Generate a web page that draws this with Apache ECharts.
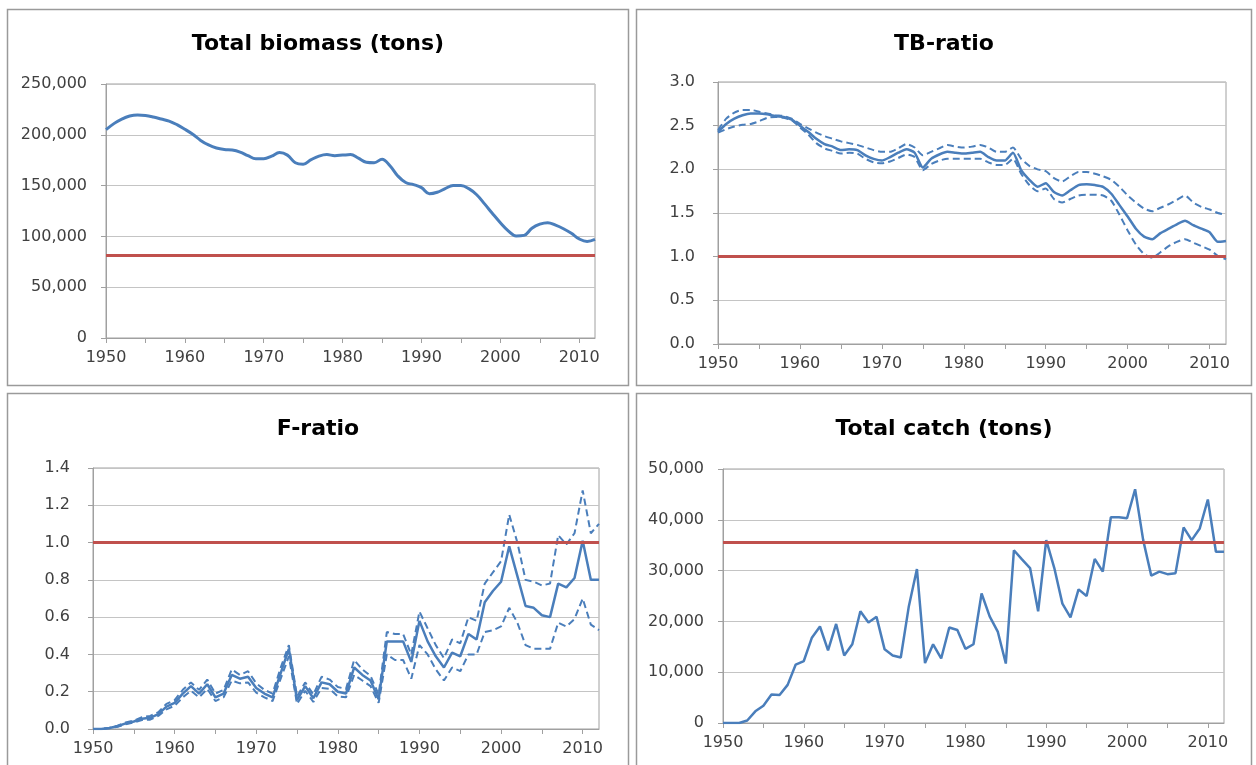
<!DOCTYPE html>
<html><head><meta charset="utf-8">
<script src="https://cdn.jsdelivr.net/npm/echarts@6/dist/echarts.min.js"></script>
<style>html,body{margin:0;padding:0;background:#fff}#c{width:1256px;height:765px}</style>
</head><body><div id="c"></div>
<script>
const years = ['1950','1951','1952','1953','1954','1955','1956','1957','1958','1959',
 '1960','1961','1962','1963','1964','1965','1966','1967','1968','1969',
 '1970','1971','1972','1973','1974','1975','1976','1977','1978','1979',
 '1980','1981','1982','1983','1984','1985','1986','1987','1988','1989',
 '1990','1991','1992','1993','1994','1995','1996','1997','1998','1999',
 '2000','2001','2002','2003','2004','2005','2006','2007','2008','2009',
 '2010','2011','2012'];

const titles = ['Total biomass (tons)', 'TB-ratio', 'F-ratio', 'Total catch (tons)'];

const biomass = [205000,211000,215500,218500,219500,219000,217500,215500,213500,210000,
 205500,200500,194500,190000,187000,185500,185000,183000,179500,176500,
 176500,179000,182500,180000,172500,171000,175500,179000,180500,179500,
 180000,180500,177000,173000,172500,176000,169500,159500,153000,151000,
 148000,142000,143500,147000,150000,150000,147000,141000,132000,122500,
 113500,105500,100500,101000,108000,112000,113500,111000,107500,103000,
 97500,95000,97000];
const biomassRef = 81500;

const tbMid = [2.43,2.52,2.58,2.62,2.64,2.64,2.63,2.61,2.60,2.57,
 2.50,2.43,2.35,2.29,2.26,2.22,2.23,2.22,2.16,2.12,
 2.10,2.14,2.19,2.23,2.19,2.02,2.12,2.17,2.20,2.19,
 2.18,2.19,2.20,2.14,2.10,2.10,2.19,1.99,1.88,1.80,
 1.84,1.74,1.70,1.76,1.82,1.83,1.82,1.80,1.72,1.59,
 1.46,1.32,1.23,1.20,1.27,1.32,1.37,1.41,1.36,1.32,
 1.28,1.17,1.18];
const tbUpper = [2.45,2.58,2.65,2.68,2.68,2.66,2.64,2.62,2.61,2.58,
 2.52,2.47,2.42,2.38,2.35,2.32,2.30,2.28,2.25,2.22,
 2.20,2.20,2.24,2.29,2.25,2.16,2.20,2.24,2.28,2.26,
 2.25,2.26,2.28,2.25,2.20,2.20,2.25,2.12,2.04,2.00,
 1.98,1.90,1.86,1.92,1.97,1.97,1.95,1.92,1.88,1.80,
 1.70,1.62,1.55,1.52,1.56,1.60,1.65,1.70,1.62,1.57,
 1.54,1.50,1.48];
const tbLower = [2.42,2.46,2.49,2.51,2.52,2.55,2.59,2.60,2.59,2.56,
 2.48,2.40,2.30,2.24,2.21,2.18,2.19,2.18,2.12,2.08,
 2.07,2.09,2.13,2.17,2.14,1.99,2.06,2.10,2.12,2.12,
 2.12,2.12,2.12,2.08,2.05,2.05,2.12,1.95,1.82,1.75,
 1.78,1.66,1.62,1.66,1.70,1.71,1.71,1.70,1.64,1.48,
 1.30,1.14,1.03,0.99,1.05,1.12,1.17,1.20,1.16,1.12,
 1.08,1.01,0.97];
const tbRef = 1.0;

const fMid = [0.00,0.00,0.005,0.015,0.03,0.04,0.055,0.06,0.08,0.12,
 0.14,0.19,0.23,0.19,0.24,0.17,0.19,0.29,0.27,0.28,
 0.22,0.19,0.17,0.30,0.43,0.155,0.23,0.165,0.25,0.24,
 0.20,0.19,0.33,0.29,0.26,0.16,0.47,0.47,0.47,0.36,
 0.58,0.47,0.39,0.33,0.41,0.39,0.51,0.48,0.68,0.74,
 0.79,0.98,0.82,0.66,0.65,0.61,0.60,0.78,0.76,0.81,
 1.01,0.80,0.80];
const fUpper = [0.00,0.00,0.006,0.018,0.035,0.045,0.063,0.07,0.09,0.135,
 0.155,0.21,0.25,0.21,0.265,0.19,0.21,0.32,0.29,0.31,
 0.245,0.21,0.19,0.33,0.45,0.175,0.25,0.185,0.28,0.265,
 0.225,0.215,0.37,0.32,0.285,0.185,0.52,0.51,0.51,0.40,
 0.63,0.54,0.45,0.38,0.48,0.46,0.60,0.58,0.78,0.84,
 0.90,1.15,1.00,0.80,0.79,0.77,0.78,1.04,0.99,1.05,
 1.28,1.05,1.10];
const fLower = [0.00,0.00,0.004,0.012,0.025,0.035,0.048,0.05,0.07,0.105,
 0.125,0.17,0.205,0.17,0.215,0.15,0.17,0.26,0.245,0.25,
 0.195,0.17,0.15,0.27,0.39,0.135,0.205,0.145,0.22,0.215,
 0.175,0.17,0.29,0.26,0.23,0.14,0.40,0.37,0.37,0.27,
 0.45,0.40,0.32,0.26,0.33,0.31,0.40,0.40,0.52,0.53,
 0.55,0.65,0.57,0.45,0.43,0.43,0.43,0.57,0.55,0.59,
 0.70,0.56,0.53];
const fRef = 1.0;

const catchTons = [0,0,0,500,2300,3400,5600,5500,7500,11500,
 12200,16800,19000,14300,19500,13300,15500,22000,19800,20900,
 14500,13300,12900,23000,30300,11800,15500,12700,18800,18300,
 14600,15500,25500,21000,18000,11700,34000,32200,30500,22000,
 36000,30500,23500,20800,26300,25000,32300,29800,40500,40500,
 40300,46000,36000,29000,29800,29300,29500,38500,36000,38300,
 44000,33700,33700];
const catchRef = 35500;

const bioTicks = [0, 250000, 50000];
const tbTicks = [0, 3, 0.5];
const fTicks = [0, 1.4, 0.2];
const catchTicks = [0, 50000, 10000];

const FONT = 'DejaVu Sans';
const BLUE = '#4A7EBB';
const RED = '#C0504D';
const AXC = '#a0a0a0';

const grids = [
  {left: 106, top: 84, width: 489, height: 254},
  {left: 718, top: 82, width: 508, height: 262},
  {left: 93, top: 468, width: 506, height: 261},
  {left: 723, top: 469, width: 501, height: 254}
].map(g => Object.assign({show: true, borderColor: AXC, borderWidth: 1, backgroundColor: 'transparent'}, g));

const commas = v => v.toLocaleString('en-US');
const oneDec = v => v.toFixed(1);

function xAx(i) {
  return {
    type: 'category', gridIndex: i, data: years, boundaryGap: false,
    axisLine: {show: true, lineStyle: {color: AXC, width: 1}},
    axisTick: {show: true, length: 5, interval: (idx) => idx % 5 === 0, lineStyle: {color: AXC}},
    axisLabel: {interval: (idx) => idx % 10 === 0, margin: 12, fontSize: 16, fontFamily: FONT, color: '#404040'},
    splitLine: {show: false}
  };
}
function yAx(i, t, fmt, margin) {
  return {
    type: 'value', gridIndex: i, min: t[0], max: t[1], interval: t[2],
    axisLine: {show: true, lineStyle: {color: AXC, width: 1}},
    axisTick: {show: true, length: 5, lineStyle: {color: AXC}},
    axisLabel: {formatter: fmt, margin: margin, fontSize: 16, fontFamily: FONT, color: '#404040'},
    splitLine: {show: true, lineStyle: {color: '#c4c4c4', width: 1}}
  };
}
function refLine(v) {
  return {silent: true, symbol: ['none', 'none'], label: {show: false},
    lineStyle: {color: RED, width: 3, type: 'solid'}, data: [{yAxis: v}]};
}
function ln(i, data, opts) {
  return Object.assign({
    type: 'line', xAxisIndex: i, yAxisIndex: i, data: data, symbol: 'none',
    showSymbol: false, animation: false
  }, opts);
}

const titleCenters = [[318, 33], [944, 33], [318, 418], [944, 418]];

const option = {
  animation: false,
  backgroundColor: '#fff',
  title: titles.map((t, i) => ({
    text: t, left: titleCenters[i][0], top: titleCenters[i][1], textAlign: 'center', padding: 0,
    textStyle: {fontSize: 22, fontWeight: 'bold', fontFamily: FONT, color: '#000'}
  })),
  grid: grids,
  xAxis: [xAx(0), xAx(1), xAx(2), xAx(3)],
  yAxis: [yAx(0, bioTicks, commas, 19), yAx(1, tbTicks, oneDec, 23), yAx(2, fTicks, oneDec, 23), yAx(3, catchTicks, commas, 19)],
  series: [
    ln(0, biomass, {smooth: 0.4, lineStyle: {color: BLUE, width: 3}, markLine: refLine(biomassRef), z: 3}),
    ln(1, tbUpper, {smooth: 0.2, lineStyle: {color: BLUE, width: 2, type: [7, 4]}}),
    ln(1, tbLower, {smooth: 0.2, lineStyle: {color: BLUE, width: 2, type: [7, 4]}}),
    ln(1, tbMid, {smooth: 0.2, lineStyle: {color: BLUE, width: 2.5}, markLine: refLine(tbRef)}),
    ln(2, fUpper, {lineStyle: {color: BLUE, width: 2, type: [7, 4]}}),
    ln(2, fLower, {lineStyle: {color: BLUE, width: 2, type: [7, 4]}}),
    ln(2, fMid, {lineStyle: {color: BLUE, width: 2.5}, markLine: refLine(fRef)}),
    ln(3, catchTons, {lineStyle: {color: BLUE, width: 2.5}, markLine: refLine(catchRef)})
  ],
  graphic: [
    {type: 'rect', shape: {x: 7.5, y: 9.5, width: 621, height: 376}, style: {fill: 'none', stroke: '#9a9a9a', lineWidth: 1.5}, silent: true},
    {type: 'rect', shape: {x: 636.5, y: 9.5, width: 615, height: 376}, style: {fill: 'none', stroke: '#9a9a9a', lineWidth: 1.5}, silent: true},
    {type: 'rect', shape: {x: 7.5, y: 393.5, width: 621, height: 380}, style: {fill: 'none', stroke: '#9a9a9a', lineWidth: 1.5}, silent: true},
    {type: 'rect', shape: {x: 636.5, y: 393.5, width: 615, height: 380}, style: {fill: 'none', stroke: '#9a9a9a', lineWidth: 1.5}, silent: true}
  ]
};

const chart = echarts.init(document.getElementById('c'), null, {renderer: 'canvas'});
chart.setOption(option);
</script>
</body></html>
